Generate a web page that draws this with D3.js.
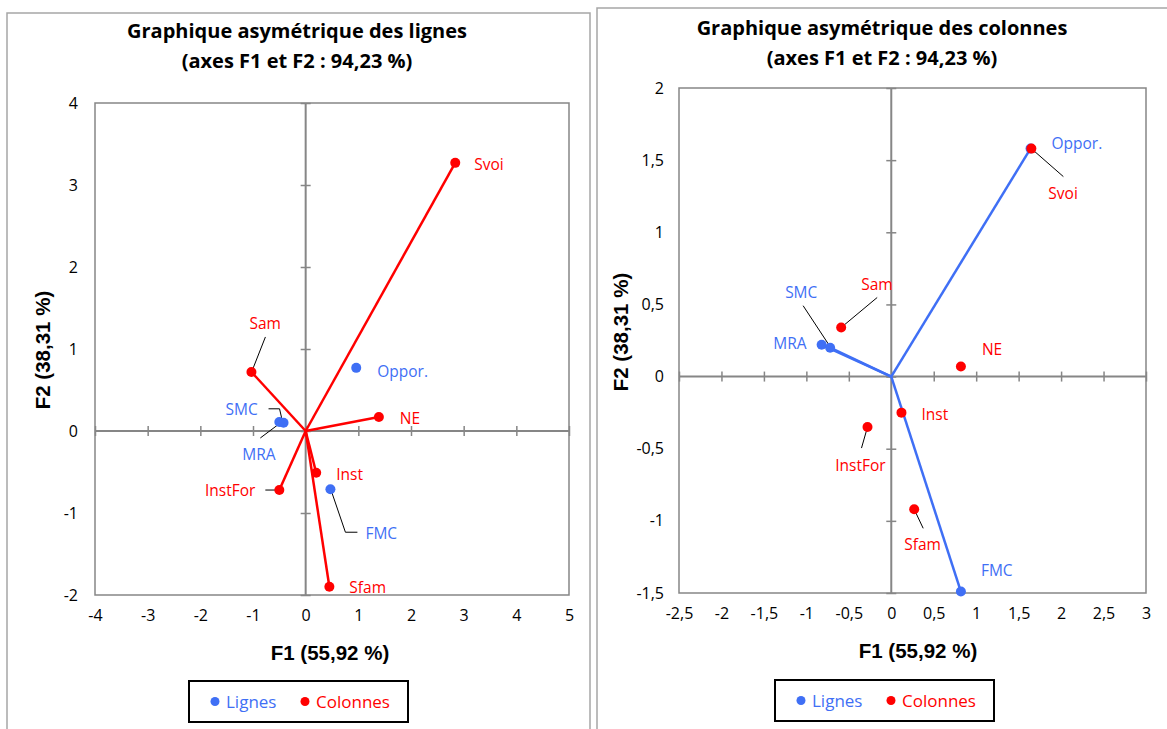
<!DOCTYPE html>
<html>
<head>
<meta charset="utf-8">
<script src="https://cdn.jsdelivr.net/npm/d3@7"></script>
<style>
  body { margin: 0; background: #fff; }
  svg { display: block; }
</style>
</head>
<body>
<svg id="chart" width="1167" height="729"></svg>
<script>
// Row and column categories
const rowNames = ["Oppor.", "SMC", "MRA", "FMC"];
const colNames = ["Svoi", "Sam", "NE", "Inst", "InstFor", "Sfam"];

// Graph of rows: rows in principal coords, columns in standard coords
const leftRowF1 = [0.96, -0.42, -0.50, 0.47];
const leftRowF2 = [0.77, 0.10, 0.11, -0.71];
const leftColF1 = [2.84, -1.03, 1.39, 0.20, -0.50, 0.45];
const leftColF2 = [3.27, 0.72, 0.17, -0.51, -0.72, -1.90];

// Graph of columns: columns in principal coords, rows in standard coords
const rightRowF1 = [1.64, -0.72, -0.82, 0.82];
const rightRowF2 = [1.58, 0.20, 0.22, -1.49];
const rightColF1 = [1.65, -0.59, 0.82, 0.12, -0.28, 0.27];
const rightColF2 = [1.58, 0.34, 0.07, -0.25, -0.35, -0.92];

// Tick values
const leftXTicks = [-4, -3, -2, -1, 0, 1, 2, 3, 4, 5];
const leftYTicks = [-2, -1, 0, 1, 2, 3, 4];
const rightXTicks = [-2.5, -2, -1.5, -1, -0.5, 0, 0.5, 1, 1.5, 2, 2.5, 3];
const rightYTicks = [-1.5, -1, -0.5, 0, 0.5, 1, 1.5, 2];

const BLUE = "#3f6ff5";
const RED = "#ff0000";
const GREY = "#868686";
const FONT = "'Open Sans', Lato, sans-serif";
const fmt = d => String(d).replace(".", ",");

// label placement in pixels, relative to the point
const leftLabels = {
    "Svoi":    { dx: 19, dy: 1 },
    "Sam":     { dx: -2, dy: -49, leader: [[14, -35], [1, -2]] },
    "NE":      { dx: 21, dy: 1 },
    "Inst":    { dx: 20, dy: 1 },
    "InstFor": { dx: -24, dy: 0, anchor: "end", leader: [[-14, 0], [0, 0]] },
    "Sfam":    { dx: 20, dy: 0 },
    "Oppor.":  { dx: 21, dy: 3 },
    "SMC":     { dx: -58, dy: -14, leader: [[-15, -14], [-4, -14], [-1, -1]] },
    "MRA":     { dx: -37, dy: 32, leader: [[-19, 16], [1, 1]] },
    "FMC":     { dx: 35, dy: 44, leader: [[1, 2], [15, 43], [27, 43]] }
};
const rightLabels = {
    "Svoi":    { dx: 17, dy: 44, leader: [[0, 0], [32, 28]] },
    "Sam":     { dx: 20, dy: -44, leader: [[36, -30], [0, 0]] },
    "NE":      { dx: 21, dy: -17 },
    "Inst":    { dx: 20, dy: 1 },
    "InstFor": { dx: -7, dy: 38, anchor: "middle", leader: [[0, 0], [-6, 21]] },
    "Sfam":    { dx: -10, dy: 35, leader: [[0, 0], [9, 19]] },
    "Oppor.":  { dx: 21, dy: -6 },
    "SMC":     { dx: -45, dy: -56, leader: [[-27, -42], [0, -1]] },
    "MRA":     { dx: -15, dy: -2, anchor: "end" },
    "FMC":     { dx: 20, dy: -22 }
};

const svg = d3.select("#chart");

function drawPanel(cfg) {
    const g = svg.append("g");

    // panel frame
    g.append("rect")
        .attr("x", cfg.frame[0]).attr("y", cfg.frame[1])
        .attr("width", cfg.frame[2]).attr("height", cfg.frame[3])
        .attr("fill", "none").attr("stroke", "#a6a6a6").attr("stroke-width", 1.5);

    const x = d3.scaleLinear().domain(cfg.xDomain).range([cfg.left, cfg.right]);
    const y = d3.scaleLinear().domain(cfg.yDomain).range([cfg.bottom, cfg.top]);

    // title
    const title = g.append("text")
        .attr("text-anchor", "middle")
        .style("font-family", FONT)
        .style("font-weight", "bold")
        .style("font-size", "20px");
    title.append("tspan").attr("x", cfg.titleX).attr("y", cfg.titleY).text(cfg.title);
    title.append("tspan").attr("x", cfg.titleX).attr("y", cfg.titleY + 30).text("(axes F1 et F2 : 94,23 %)");

    // plot area border
    g.append("rect")
        .attr("x", cfg.left).attr("y", cfg.top)
        .attr("width", cfg.right - cfg.left).attr("height", cfg.bottom - cfg.top)
        .attr("fill", "none").attr("stroke", GREY).attr("stroke-width", 1.5);

    // zero lines
    g.append("line")
        .attr("x1", cfg.left).attr("x2", cfg.right)
        .attr("y1", y(0)).attr("y2", y(0))
        .attr("stroke", GREY).attr("stroke-width", 2);
    g.append("line")
        .attr("x1", x(0)).attr("x2", x(0))
        .attr("y1", cfg.top).attr("y2", cfg.bottom)
        .attr("stroke", GREY).attr("stroke-width", 2);

    // tick marks crossing the zero lines
    const xt = g.append("g")
        .attr("transform", `translate(0,${y(0) - 5})`)
        .call(d3.axisBottom(x).tickValues(cfg.xTicks).tickSize(10).tickFormat(""));
    const yt = g.append("g")
        .attr("transform", `translate(${x(0) + 5},0)`)
        .call(d3.axisLeft(y).tickValues(cfg.yTicks).tickSize(10).tickFormat(""));
    [xt, yt].forEach(a => {
        a.select(".domain").remove();
        a.selectAll(".tick line").attr("stroke", GREY).attr("stroke-width", 1.5);
    });

    // tick labels
    const xl = g.append("g")
        .attr("transform", `translate(0,${cfg.bottom})`)
        .call(d3.axisBottom(x).tickValues(cfg.xTicks).tickSize(0).tickPadding(15).tickFormat(fmt));
    const yl = g.append("g")
        .attr("transform", `translate(${cfg.left},0)`)
        .call(d3.axisLeft(y).tickValues(cfg.yTicks).tickSize(0).tickPadding(cfg.yPad).tickFormat(fmt));
    [xl, yl].forEach(a => {
        a.select(".domain").remove();
        a.selectAll("text")
            .attr("fill", "#000")
            .style("font-family", FONT)
            .style("font-size", "16px");
    });

    // axis titles
    g.append("text")
        .attr("x", cfg.xTitle[0]).attr("y", cfg.xTitle[1])
        .attr("text-anchor", "middle")
        .attr("dominant-baseline", "central")
        .style("font-family", "'Liberation Sans', Arial, sans-serif")
        .style("font-weight", "bold").style("font-size", "20.5px")
        .text("F1 (55,92 %)");
    g.append("text")
        .attr("transform", `translate(${cfg.yTitle[0]},${cfg.yTitle[1]}) rotate(-90)`)
        .attr("text-anchor", "middle")
        .attr("dominant-baseline", "central")
        .style("font-family", "'Liberation Sans', Arial, sans-serif")
        .style("font-weight", "bold").style("font-size", "20.5px")
        .text("F2 (38,31 %)");

    const rows = rowNames.map((n, i) => ({ name: n, f1: cfg.rowF1[i], f2: cfg.rowF2[i], color: BLUE }));
    const cols = colNames.map((n, i) => ({ name: n, f1: cfg.colF1[i], f2: cfg.colF2[i], color: RED }));
    const vectors = cfg.vectorsOf === "cols" ? cols : rows;

    // vectors from origin
    g.selectAll(null).data(vectors).enter().append("line")
        .attr("x1", x(0)).attr("y1", y(0))
        .attr("x2", d => x(d.f1)).attr("y2", d => y(d.f2))
        .attr("stroke", d => d.color).attr("stroke-width", 2.5);

    const all = rows.concat(cols);

    // leader lines
    g.selectAll(null).data(all.filter(d => cfg.labels[d.name].leader)).enter().append("polyline")
        .attr("points", d => cfg.labels[d.name].leader
            .map(p => [x(d.f1) + p[0], y(d.f2) + p[1]].join(",")).join(" "))
        .attr("fill", "none").attr("stroke", "#000").attr("stroke-width", 1);

    // points
    g.selectAll(null).data(all).enter().append("circle")
        .attr("cx", d => x(d.f1)).attr("cy", d => y(d.f2))
        .attr("r", 5).attr("fill", d => d.color);

    // point labels
    g.selectAll(null).data(all).enter().append("text")
        .attr("x", d => x(d.f1) + cfg.labels[d.name].dx)
        .attr("y", d => y(d.f2) + cfg.labels[d.name].dy)
        .attr("text-anchor", d => cfg.labels[d.name].anchor || "start")
        .attr("dominant-baseline", "central")
        .attr("fill", d => d.color)
        .style("font-family", FONT)
        .style("font-size", "15.5px")
        .text(d => d.name);

    // legend
    const lg = g.append("g").attr("transform", `translate(${cfg.legend[0]},${cfg.legend[1]})`);
    lg.append("rect").attr("width", 219).attr("height", 41)
        .attr("fill", "#fff").attr("stroke", "#000").attr("stroke-width", 2);
    [["Lignes", BLUE, 26], ["Colonnes", RED, 116]].forEach(([t, c, off]) => {
        lg.append("circle").attr("cx", off).attr("cy", 20.5).attr("r", 4.5).attr("fill", c);
        lg.append("text").attr("x", off + 11).attr("y", 20.5)
            .attr("dominant-baseline", "central")
            .attr("fill", c)
            .style("font-family", FONT).style("font-size", "17px")
            .text(t);
    });
}

drawPanel({
    frame: [7, 13, 583, 740],
    title: "Graphique asymétrique des lignes",
    titleX: 297, titleY: 38,
    xDomain: [-4, 5], yDomain: [-2, 4],
    left: 95, right: 569, top: 103, bottom: 595,
    xTicks: leftXTicks, yTicks: leftYTicks, yPad: 17,
    xTitle: [330, 652], yTitle: [42, 350],
    rowF1: leftRowF1, rowF2: leftRowF2, colF1: leftColF1, colF2: leftColF2,
    vectorsOf: "cols",
    labels: leftLabels,
    legend: [189, 681]
});

drawPanel({
    frame: [597, 8, 600, 740],
    title: "Graphique asymétrique des colonnes",
    titleX: 882, titleY: 35,
    xDomain: [-2.5, 3], yDomain: [-1.5, 2],
    left: 679, right: 1146, top: 88, bottom: 593,
    xTicks: rightXTicks, yTicks: rightYTicks, yPad: 15,
    xTitle: [918, 650], yTitle: [620, 332],
    rowF1: rightRowF1, rowF2: rightRowF2, colF1: rightColF1, colF2: rightColF2,
    vectorsOf: "rows",
    labels: rightLabels,
    legend: [775, 680]
});
</script>
</body>
</html>
